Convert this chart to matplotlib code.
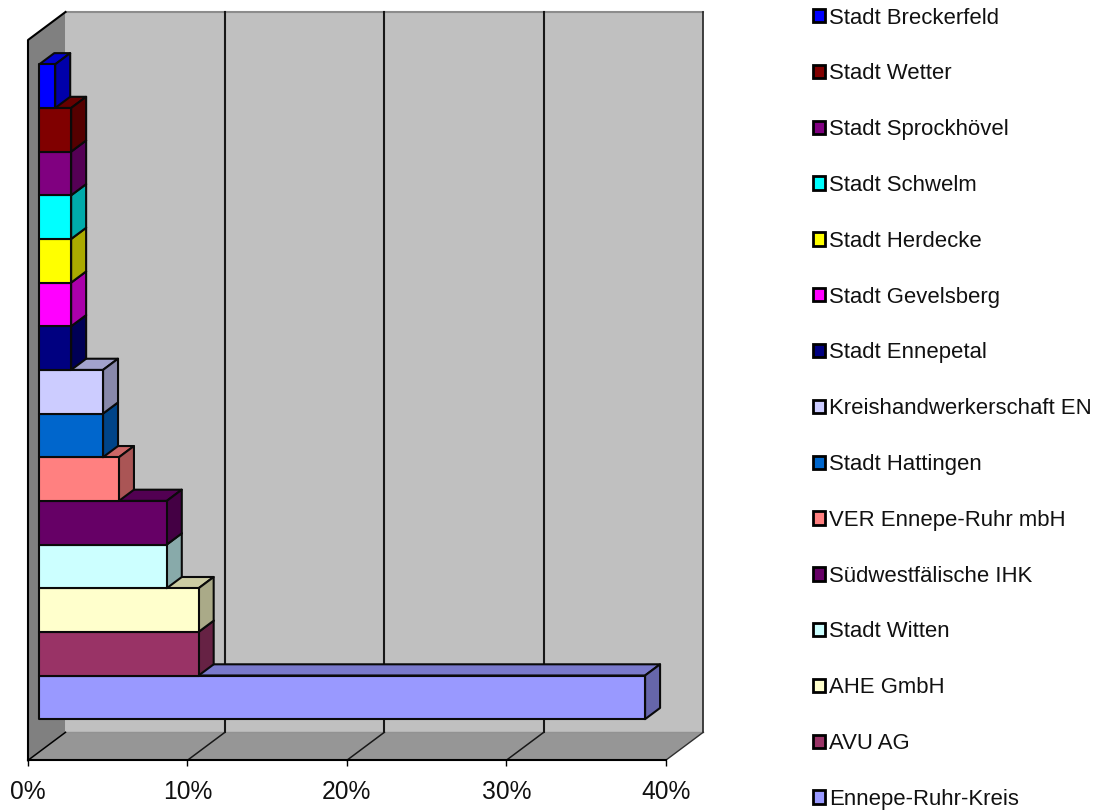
import matplotlib
matplotlib.use("Agg")
import matplotlib.pyplot as plt
from matplotlib.patches import Polygon, Patch
from matplotlib.colors import to_rgb

plt.rcParams['font.family'] = ['Liberation Sans', 'DejaVu Sans']

# Data, front of the chart (bottom) to the top
categories = ["Ennepe-Ruhr-Kreis", "AVU AG", "AHE GmbH", "Stadt Witten", "Südwestfälische IHK",
              "VER Ennepe-Ruhr mbH", "Stadt Hattingen", "Kreishandwerkerschaft EN", "Stadt Ennepetal",
              "Stadt Gevelsberg", "Stadt Herdecke", "Stadt Schwelm", "Stadt Sprockhövel",
              "Stadt Wetter", "Stadt Breckerfeld"]
values = [38, 10, 10, 8, 8, 5, 4, 4, 2, 2, 2, 2, 2, 2, 1]
colors = ["#9999FF", "#993366", "#FFFFCC", "#CCFFFF", "#660066", "#FF8080", "#0066CC", "#CCCCFF",
          "#000080", "#FF00FF", "#FFFF00", "#00FFFF", "#800080", "#800000", "#0000FF"]
x_ticks = [0, 10, 20, 30, 40]

W, H = 1097, 811
fig = plt.figure(figsize=(W / 100, H / 100), dpi=100)
L, R, T, B = 28.0, 665.7, 40.0, 760.3
ax = fig.add_axes([L / W, 1 - B / H, (R - L) / W, (B - T) / H])
XMAX, MARGIN = 40, 0.75
YMAX = len(values) + 2 * MARGIN
ax.set_xlim(0, XMAX)
ax.set_ylim(0, YMAX)
ax.patch.set_visible(False)

# depth vector of the 3D box, in data units
DX = 37.5 / ((R - L) / XMAX)
DY = 28.0 / ((B - T) / YMAX)
FRONT, BACK = 0.30, 0.70


def pt(x, y, d):
    return (x + d * DX, y + d * DY)


def poly(points, face, edge='none', lw=0.0, z=1):
    ax.add_patch(Polygon(points, closed=True, facecolor=face, edgecolor=edge, linewidth=lw,
                         clip_on=False, zorder=z, joinstyle='round'))


def shade(c, f):
    return tuple(v * f for v in to_rgb(c))


# walls and floor
poly([pt(0, YMAX, 1), pt(XMAX, YMAX, 1), pt(XMAX, 0, 1), pt(0, 0, 1)], '#C0C0C0', z=1)
poly([pt(0, 0, 0), pt(0, 0, 1), pt(0, YMAX, 1), pt(0, YMAX, 0)], '#808080', z=1)
poly([pt(0, 0, 0), pt(XMAX, 0, 0), pt(XMAX, 0, 1), pt(0, 0, 1)], '#969696', z=1)
ax.plot(*zip(pt(0, YMAX, 1), pt(XMAX, YMAX, 1)), color='#8c8c8c', lw=1.5, zorder=2, clip_on=False)
ax.plot(*zip(pt(0, 0, 1), pt(XMAX, 0, 1)), color='#929292', lw=1.0, zorder=2, clip_on=False)
ax.plot(*zip(pt(XMAX, YMAX, 1), pt(XMAX, 0, 1)), color='#303030', lw=1.3, zorder=2, clip_on=False)
ax.plot(*zip(pt(0, 0, 0), pt(0, YMAX, 0), pt(0, YMAX, 1)), color='black', lw=1.5, zorder=3, clip_on=False)
ax.plot(*zip(pt(0, 0, 0), pt(0, 0, 1)), color='black', lw=1.1, zorder=3, clip_on=False)

# gridlines on wall and floor
for t in x_ticks[1:-1]:
    ax.plot(*zip(pt(t, YMAX, 1), pt(t, 0, 1)), color='#181818', lw=1.5, zorder=3, clip_on=False)
    ax.plot(*zip(pt(t, 0, 1), pt(t, 0, 0)), color='#181818', lw=1.1, zorder=3, clip_on=False)
ax.plot(*zip(pt(XMAX, 0, 1), pt(XMAX, 0, 0)), color='#303030', lw=1.0, zorder=3, clip_on=False)

# bars: front of the stack first, so the higher bars overlap the lower bars' top faces
for i, (v, c) in enumerate(zip(values, colors)):
    y0, y1 = MARGIN + i, MARGIN + i + 1
    z = 10 + i
    poly([pt(0, y1, FRONT), pt(0, y1, BACK), pt(v, y1, BACK), pt(v, y1, FRONT)], shade(c, 0.8), '#0a0a0a', 1.5, z)
    poly([pt(v, y0, FRONT), pt(v, y1, FRONT), pt(v, y1, BACK), pt(v, y0, BACK)], shade(c, 0.667), '#0a0a0a', 1.5, z)
    poly([pt(0, y0, FRONT), pt(v, y0, FRONT), pt(v, y1, FRONT), pt(0, y1, FRONT)], c, '#0a0a0a', 1.5, z)

# axis
for s in ('top', 'left', 'right'):
    ax.spines[s].set_visible(False)
ax.spines['bottom'].set_linewidth(1.5)
ax.spines['bottom'].set_zorder(4)
ax.set_yticks([])
ax.set_xticks(x_ticks)
ax.set_xticklabels([f"{t}%" for t in x_ticks], fontsize=17.7, color='#111111')
ax.tick_params(axis='x', length=4.5, width=1.0, pad=10)

# legend (top to bottom)
handles = [Patch(facecolor=c, edgecolor='black', linewidth=2.0) for c in colors[::-1]]
fs = 15.9
fig.legend(handles, categories[::-1], loc='upper left', bbox_to_anchor=(812.8 / W, 1 - 7.5 / H),
           bbox_transform=fig.transFigure, frameon=False, fontsize=fs, borderpad=0, borderaxespad=0,
           labelspacing=(56.9 - fs * 100 / 72) / (fs * 100 / 72), handlelength=0.55, handleheight=0.55,
           handletextpad=0.2, labelcolor='#111111')

fig.savefig("out.png", dpi=100)
